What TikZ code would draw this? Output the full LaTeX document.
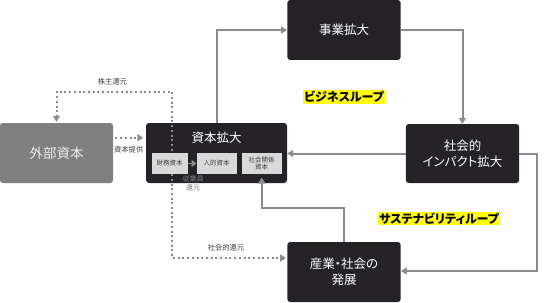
\documentclass[tikz,border=0pt]{standalone}
\usepackage{fontspec}
\setmainfont[RawFeature=+palt]{Noto Sans CJK JP}
\usetikzlibrary{arrows.meta,positioning}
\definecolor{boxdark}{HTML}{252328}
\definecolor{boxgray}{HTML}{808080}
\definecolor{lightbox}{HTML}{D9D9D9}
\definecolor{linegray}{HTML}{8C8C8C}
\definecolor{labgray}{HTML}{404040}
\definecolor{hl}{HTML}{FFFF00}
\tikzset{
  darkbox/.style={rectangle, rounded corners=3pt, fill=boxdark, draw=none, text=white,
    minimum width=113.4pt, minimum height=60pt, inner sep=0pt, align=center,
    font=\fontsize{12.5}{16}\selectfont},
  graybox/.style={darkbox, fill=boxgray, text=white!92!black, font=\fontsize{13.5}{16}\selectfont},
  smallbox/.style={rectangle, fill=lightbox, draw=none, text=labgray, minimum width=40pt,
    minimum height=21.6pt, inner sep=0pt, align=center, font=\fontsize{6.5}{7.5}\selectfont},
  conn/.style={draw=linegray, line width=2pt, -{Triangle[length=6pt,width=7pt]}},
  dotconn/.style={draw=linegray, line width=2pt, dash pattern=on 2pt off 2.7pt,
    -{Triangle[length=6pt,width=7pt]}},
  dotline/.style={draw=linegray, line width=2pt, dash pattern=on 2pt off 2.7pt},
  smalllab/.style={text=labgray, inner sep=0pt, align=center, font=\fontsize{7.3}{10}\selectfont},
  looplab/.style={fill=hl, text=black, inner sep=1pt, font=\fontsize{12}{14}\bfseries\selectfont}
}
\begin{document}
\begin{tikzpicture}[x=1pt,y=-1pt]
\useasboundingbox (0,0) rectangle (553,302);
% main boxes
\node[graybox] (ext) at (56.5,153) {外部資本};
\node[darkbox, minimum width=141pt] (cap) at (216.5,153) {};
\node[text=white, inner sep=0pt, font=\fontsize{12.5}{15}\selectfont] (captitle) at (216.7,138) {資本拡大};
\node[darkbox] (biz) at (344,30) {事業拡大};
\node[darkbox, minimum height=59pt] (imp) at (462.5,153.5) {社会的\\インパクト拡大};
\node[darkbox] (dev) at (344,272) {産業・社会の\\発展};
% dotted connectors from the capital box
\coordinate (src) at (172.3,160);
\coordinate (tl) at (172.3,92);
\coordinate (bl) at (172.3,258);
\draw[dotconn, shorten >=1pt] (src) -- (tl) -| (ext.north);
\draw[dotconn, shorten >=1pt] (src) -- (bl) -- (bl -| dev.west);
\draw[dotconn, shorten <=2pt, shorten >=2.5pt] ([yshift=15.3pt]ext.east) -- ([yshift=15.3pt]cap.west);
% inner boxes
\node[smallbox, minimum width=36pt] (fin) at (169.7,163.5) {財務資本};
\node[smallbox] (hum) at (216.7,163.5) {人的資本};
\node[smallbox] (soc) at (261.7,163.5) {社会関係\\資本};
\draw[draw=linegray, line width=1.5pt, -{Triangle[length=5pt,width=7pt]}] (fin.east) -- (hum.west);
% solid connectors
\coordinate (jn) at (344,208);
\coordinate (rc) at (536.7,271);
\draw[conn] (cap.north) |- (biz.west);
\draw[conn] (biz.east) -| (imp.north);
\draw[conn] (imp.west) -- (imp.west -| cap.east);
\draw[conn] (imp.east) -| (rc) -- (rc -| dev.east);
\draw[conn, shorten >=3pt] (dev.north) -- (jn) -| (soc.south);
% labels
\node[smalllab] (l1) at (112.5,81.5) {株主還元};
\node[smalllab] (l2) at (128.7,150) {資本提供};
\node[smalllab, font=\fontsize{7}{9.5}\selectfont, text=gray] (l3) at (193,183.5) {従業員\\還元};
\node[smalllab] (l4) at (226,247.5) {社会的還元};
\node[looplab] (loop1) at (344,97) {ビジネスループ};
\node[looplab] (loop2) at (439,218.5) {サステナビリティループ};
\end{tikzpicture}
\end{document}
